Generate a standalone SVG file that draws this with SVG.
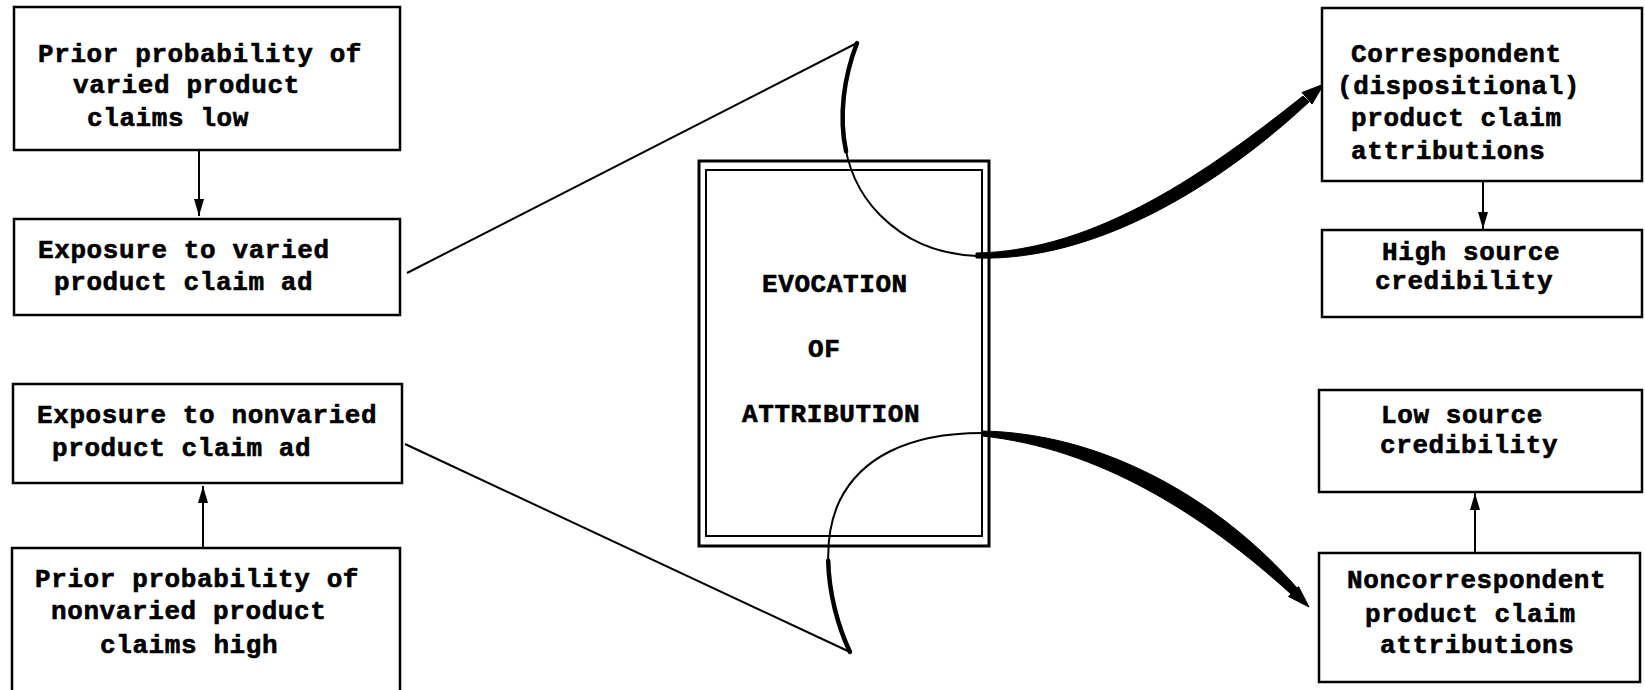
<svg xmlns="http://www.w3.org/2000/svg" width="1645" height="690" viewBox="0 0 1645 690">
<style>
.box{fill:#fff;stroke:#000;stroke-width:2.5}
.t{font-family:"Liberation Mono","DejaVu Sans Mono",monospace;font-weight:bold;font-size:26px;letter-spacing:0.6px;fill:#000;stroke:#000;stroke-width:0.6}
.ln{fill:none;stroke:#000;stroke-width:2}
.thk{fill:none;stroke:#000;stroke-width:4.5;stroke-linecap:round}
.fill{fill:#000;stroke:#000;stroke-width:1;stroke-linejoin:round}
</style>
<defs>
<marker id="ah" markerWidth="18" markerHeight="12" refX="17" refY="6" orient="auto" markerUnits="userSpaceOnUse" viewBox="0 0 18 12">
<path d="M0,1 L17,6 L0,11 Z" fill="#000"/>
</marker>
</defs>
<rect width="1645" height="690" fill="#fff"/>

<g id="connectors">
<line class="ln" x1="199" y1="150" x2="199" y2="216" marker-end="url(#ah)"/>
<line class="ln" x1="203" y1="548" x2="203" y2="486" marker-end="url(#ah)"/>
<line class="ln" x1="1483" y1="181" x2="1483" y2="229" marker-end="url(#ah)"/>
<line class="ln" x1="1475" y1="553" x2="1475" y2="493" marker-end="url(#ah)"/>
<line class="ln" x1="407" y1="273" x2="857" y2="43"/>
<line class="ln" x1="405" y1="444" x2="850" y2="652"/>
<path class="ln" d="M857,43 C835,100 835,170 880,215 C905,240 935,254 977,256"/>
<path class="thk" d="M857,43 C843.8,77.2 838.5,116.1 846.1,151.4"/>
<path class="ln" d="M850,652 C830,610 818,545 840,500 C860,460 905,433 982,433"/>
<path class="thk" d="M850,652 C838,626.8 828.9,593.3 828.2,560.8"/>
<path class="fill" d="M976,253 C1097,251 1210,170 1303,96 L1309,102 C1221,184 1097,262 976,258 Z"/>
<path class="fill" d="M1324,84 L1302,92.5 L1312,104 Z"/>
<path class="fill" d="M982,431 C1102,433 1218,498 1297,588 L1291,594 C1203,514 1098,448 982,436 Z"/>
<path class="fill" d="M1309,607 L1298.5,586.5 L1288.5,596.5 Z"/>
</g>

<g id="n1">
<rect class="box" x="14" y="7" width="386" height="143"/>
<text class="t" x="38" y="62">Prior probability of</text>
<text class="t" x="73" y="93">varied product</text>
<text class="t" x="87" y="126">claims low</text>
</g>
<g id="n2">
<rect class="box" x="14" y="219" width="386" height="96"/>
<text class="t" x="38" y="258">Exposure to varied</text>
<text class="t" x="54" y="290">product claim ad</text>
</g>
<g id="n3">
<rect class="box" x="13" y="384" width="389" height="99"/>
<text class="t" x="37" y="423">Exposure to nonvaried</text>
<text class="t" x="52" y="456">product claim ad</text>
</g>
<g id="n4">
<rect class="box" x="12" y="548" width="388" height="145"/>
<text class="t" x="35" y="587">Prior probability of</text>
<text class="t" x="51" y="619">nonvaried product</text>
<text class="t" x="100" y="653">claims high</text>
</g>
<g id="center">
<rect x="699" y="161" width="290" height="385" fill="none" stroke="#000" stroke-width="3"/>
<rect x="706" y="170" width="276" height="366" fill="none" stroke="#000" stroke-width="2"/>
<text class="t" x="762" y="292">EVOCATION</text>
<text class="t" x="808" y="357">OF</text>
<text class="t" x="742" y="422">ATTRIBUTION</text>
</g>
<g id="n5">
<rect class="box" x="1322" y="8" width="320" height="173"/>
<text class="t" x="1351" y="62">Correspondent</text>
<text class="t" x="1337" y="94">(dispositional)</text>
<text class="t" x="1351" y="126">product claim</text>
<text class="t" x="1351" y="159">attributions</text>
</g>
<g id="n6">
<rect class="box" x="1322" y="230" width="320" height="87"/>
<text class="t" x="1382" y="260">High source</text>
<text class="t" x="1375" y="289">credibility</text>
</g>
<g id="n7">
<rect class="box" x="1319" y="390" width="323" height="102"/>
<text class="t" x="1381" y="423">Low source</text>
<text class="t" x="1380" y="453">credibility</text>
</g>
<g id="n8">
<rect class="box" x="1319" y="553" width="321" height="129"/>
<text class="t" x="1347" y="588">Noncorrespondent</text>
<text class="t" x="1365" y="622">product claim</text>
<text class="t" x="1380" y="653">attributions</text>
</g>
</svg>
